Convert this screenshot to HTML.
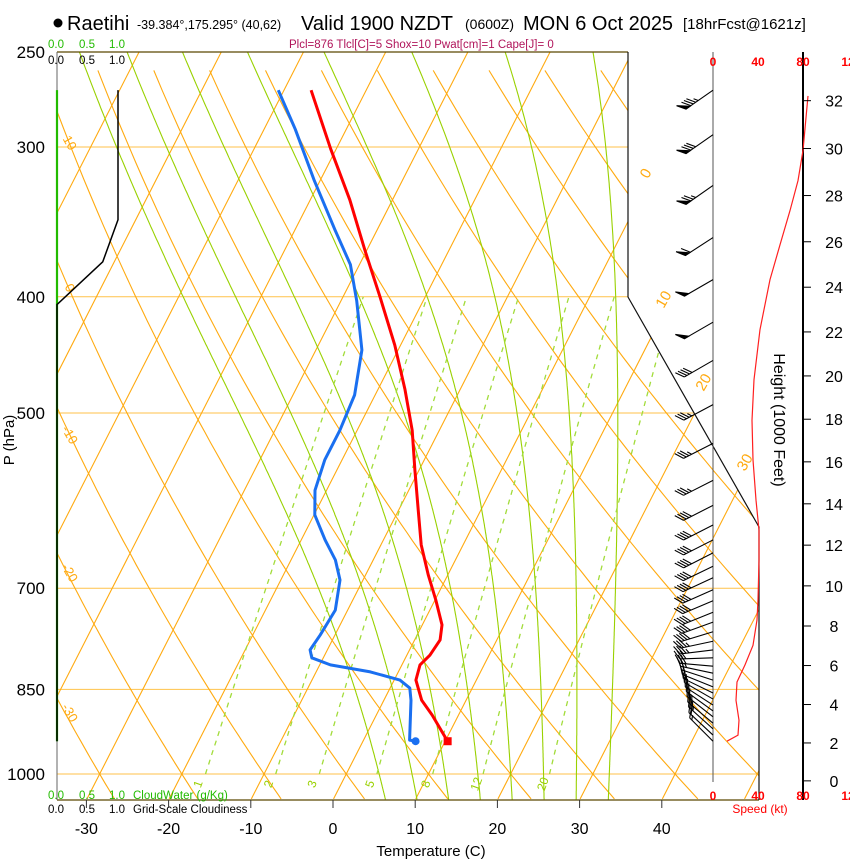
<!DOCTYPE html>
<html><head><meta charset="utf-8"><style>
html,body{margin:0;padding:0;background:#fff;}
svg{display:block;font-family:"Liberation Sans",sans-serif;}
</style></head><body>
<svg id="chart" width="850" height="860" viewBox="0 0 850 860" xmlns="http://www.w3.org/2000/svg">
<defs><clipPath id="plotclip"><path d="M57,52 H628 V297 L759,527 V800 H57 Z"/></clipPath></defs>
<g id="grid" clip-path="url(#plotclip)"></g>
<g id="labels"></g>
<g id="frame">
<line x1="57" y1="52" x2="628" y2="52" stroke="#5a4800" stroke-width="1.2"/>
<line x1="57" y1="800" x2="759" y2="800" stroke="#5a4800" stroke-width="1.2"/>
<line x1="57" y1="52" x2="57" y2="800" stroke="#666" stroke-width="1"/>
<path d="M628,52 V297 L759,527 V800" fill="none" stroke="#111" stroke-width="1.2"/>
<line x1="713" y1="52" x2="713" y2="782" stroke="#555" stroke-width="1"/>
<line x1="803" y1="52" x2="803" y2="800" stroke="#000" stroke-width="2"/>
</g>
<g id="profiles"></g>
<g id="wind"></g>
<g id="texts">
<circle cx="58" cy="23" r="4.5" fill="#000"/>
<text x="67" y="30" font-size="20">Raetihi</text>
<text x="137" y="29" font-size="12.5">-39.384°,175.295° (40,62)</text>
<text x="301" y="30" font-size="20">Valid 1900 NZDT</text>
<text x="465" y="29" font-size="14">(0600Z)</text>
<text x="523" y="30" font-size="20">MON 6 Oct 2025</text>
<text x="683" y="29" font-size="15">[18hrFcst@1621z]</text>
<text x="289" y="48" font-size="11.5" fill="#b0145a">Plcl=876 Tlcl[C]=5 Shox=10 Pwat[cm]=1 Cape[J]= 0</text>
<g font-size="11.5" fill="#22bb00"><text x="48" y="48">0.0</text><text x="79" y="48">0.5</text><text x="109" y="48">1.0</text></g>
<g font-size="11.5" fill="#000"><text x="48" y="64">0.0</text><text x="79" y="64">0.5</text><text x="109" y="64">1.0</text></g>
<g font-size="11.5" fill="#22bb00"><text x="48" y="799">0.0</text><text x="79" y="799">0.5</text><text x="109" y="799">1.0</text><text x="133" y="799">CloudWater (g/Kg)</text></g>
<g font-size="11.5" fill="#000"><text x="48" y="813">0.0</text><text x="79" y="813">0.5</text><text x="109" y="813">1.0</text><text x="133" y="813">Grid-Scale Cloudiness</text></g>
<text x="431" y="856" font-size="15" text-anchor="middle">Temperature (C)</text>
<text transform="translate(14,440) rotate(-90)" font-size="15" text-anchor="middle">P (hPa)</text>
<text transform="translate(774,420) rotate(90)" font-size="16" text-anchor="middle">Height (1000 Feet)</text>
<g font-size="12" font-weight="bold" fill="#f00" text-anchor="middle"><text x="713" y="66">0</text><text x="758" y="66">40</text><text x="803" y="66">80</text><text x="848" y="66">12</text></g>
<g font-size="12" font-weight="bold" fill="#f00" text-anchor="middle"><text x="713" y="800">0</text><text x="758" y="800">40</text><text x="803" y="800">80</text><text x="848" y="800">12</text></g>
<text x="760" y="813" font-size="12" fill="#f00" text-anchor="middle">Speed (kt)</text>
</g>
<g id="axes"></g>
</svg>
<script>
const tempP=[269,301,332,366,400,439,478,517,558,602,644,682,716,751,773,796,811,835,868,893,939];
const tempT=[-46.7,-40.7,-35.2,-30.2,-25.5,-20.7,-16.7,-13.3,-10.5,-7.65,-5.1,-2.4,0.1,2.4,3.1,2.8,2.2,2.65,4.6,6.8,10.3];
const dewP=[269,290,320,352,376,403,443,483,517,547,580,608,638,663,689,730,766,788,800,811,822,835,848,868,937,939];
const dewT=[-50.7,-46.2,-40.7,-35.1,-31.1,-28.1,-24.4,-22.5,-22.1,-22.1,-21.4,-19.9,-17.1,-14.6,-12.8,-11.5,-11.8,-12.1,-11.4,-8.7,-3.4,0.7,2.4,3.3,5.6,6.4];
const speedP=[272,302,320,339,362,387,426,469,507,547,591,626,663,716,744,781,811,838,868,902,928,939];
const speedKt=[84.4,80,75.6,68.4,59.6,50.7,41.8,36.4,34.7,35.6,38.2,40.9,40.9,40,39.1,35.6,28.4,21.3,20.4,23.1,22.2,12.4];
const barbP=[269,293,323,357,387,420,452,492,530,569,597,620,638,654,671,686,702,717,733,747,761,775,788,800,813,824,835,846,856,866,876,886,896,907,917,928,939];
const barbKt=[84,81,75,61,51,50,38,35,35,36,38,40,41,41,41,41,40,40,40,39,38,36,34,31,28,25,22,21,20,20,21,22,23,23,23,22,13];
const barbDir=[235,235,235,237,240,240,240,242,243,243,243,243,243,243,244,245,246,247,248,250,253,258,263,268,275,282,288,292,296,300,303,306,308,310,312,313,315];
const cloudP=[269,345,374,406,939];
const cloudFrac=[1.0,1.0,0.75,0,0];
const cloudWaterP=[269,939];
const cloudWater=[0,0];
const pressureTicks=[250,300,400,500,700,850,1000];
const tempTicks=[-30,-20,-10,0,10,20,30,40];
const heightTicks=[0,2,4,6,8,10,12,14,16,18,20,22,24,26,28,30,32];
const isotherms=[-110,-100,-90,-80,-70,-60,-50,-40,-30,-20,-10,0,10,20,30,40,50];
const isoLabels=[0,10,20,30];
const dryAdiabats=[-40,-30,-20,-10,0,10,20,30,40,50,60,70,80,90,100,110,120,130,140,150];
const dryLabels=[10,0,-10,-20,-30];
const moistAdiabats=[4,8,12,16,20,24,28,32];
const mixRatios=[1,2,3,5,8,12,20];

const NS="http://www.w3.org/2000/svg";
const yP=p=>774+520.8*Math.log(p/1000);
const xT=(T,p)=>333+8.22*T+0.51*(800-yP(p));
const xS=kt=>713+kt*45/40;
const xC=f=>57+f*61;
function mk(parent,tag,attrs){const e=document.createElementNS(NS,tag);for(const k in attrs)e.setAttribute(k,attrs[k]);parent.appendChild(e);return e;}
function pathFromTP(Ts,Ps){return Ts.map((T,i)=>(i?'L':'M')+xT(T,Ps[i]).toFixed(1)+','+yP(Ps[i]).toFixed(1)).join(' ');}
const grid=document.getElementById('grid'),labels=document.getElementById('labels'),prof=document.getElementById('profiles'),wind=document.getElementById('wind'),axes=document.getElementById('axes');

pressureTicks.forEach(p=>{if(p===250)return;
 const l=mk(grid,'line',{x1:57,x2:760,y1:yP(p),y2:yP(p),stroke:'#ffc24a','stroke-width':1});
 
 });
isotherms.forEach(T=>{const l=mk(grid,'line',{x1:xT(T,1049),y1:yP(1049),x2:xT(T,250),y2:yP(250),stroke:'#ffaa10','stroke-width':1.1});
 
 });
dryAdiabats.forEach(th=>{const Ps=[],Ts=[];for(let p=1049;p>=250;p-=10){Ps.push(p);Ts.push((th+273.15)*Math.pow(p/1000,0.2857)-273.15);}
 const e=mk(grid,'path',{d:pathFromTP(Ts,Ps),fill:'none',stroke:'#ffaa10','stroke-width':1.1});
 
 });
function es(Tc){return 6.112*Math.exp(17.67*Tc/(Tc+243.5));}
function dTdp(T,p){const Tc=T-273.15,e=es(Tc),rs=0.622*e/(p-e),Lv=2.501e6,Rd=287.04,cp=1005.7;
 return (1/p)*(Rd*T+Lv*rs)/(cp+Lv*Lv*rs*0.622/(Rd*T*T));}
moistAdiabats.forEach(tw=>{let up=[],T=tw+273.15;for(let p=1000;p>=250;p-=2){up.push([p,T-273.15]);T-=dTdp(T,p)*2;}
 let dn=[];T=tw+273.15;for(let p=1000;p<=1050;p+=2){dn.push([p,T-273.15]);T+=dTdp(T,p)*2;}
 const pts=dn.reverse().concat(up);
 const e=mk(grid,'path',{d:pathFromTP(pts.map(a=>a[1]),pts.map(a=>a[0])),fill:'none',stroke:'#99d100','stroke-width':1.1});
 
 });
function tdFromW(w,p){const e=p*w/(622+w),l=Math.log(e/6.112);return 243.5*l/(17.67-l);}
mixRatios.forEach(w=>{const Ps=[],Ts=[];for(let p=1000;p>=400;p-=10){Ps.push(p);Ts.push(tdFromW(w,p));}
 const e=mk(grid,'path',{d:pathFromTP(Ts,Ps),fill:'none',stroke:'#a2dc3a','stroke-width':1.3,'stroke-dasharray':'5,5'});
 
 
 const lx=xT(tdFromW(w,1022),1022),ly=yP(1022);
 const t=mk(labels,'text',{x:lx,y:ly,'font-size':12,fill:'#99d100','text-anchor':'middle',transform:`rotate(-70 ${lx} ${ly})`});
 t.textContent=w;
 
 });
const isoLabelP=[314,400,469,547];
isoLabels.forEach((T,i)=>{const p=isoLabelP[i],x=xT(T,p)-4,y=yP(p)+5;
 const t=mk(labels,'text',{x:x,y:y,'font-size':15,fill:'#ffaa10','text-anchor':'middle',transform:`rotate(-60 ${x} ${y})`});
 t.textContent=T;
 
 });
const dryLabelY=[145,290,437,575,715];
dryLabels.forEach((th,i)=>{const x=66,y=dryLabelY[i];
 const t=mk(labels,'text',{x:x,y:y,'font-size':13,fill:'#ffaa10','text-anchor':'middle',transform:`rotate(60 ${x} ${y})`});
 t.textContent=th;
 
 });

const cw=mk(prof,'path',{d:cloudWaterP.map((p,i)=>(i?'L':'M')+xC(cloudWater[i])+','+yP(p)).join(' '),stroke:'#22bb00','stroke-width':2.2,fill:'none'});


const cf=mk(prof,'path',{d:cloudP.map((p,i)=>(i?'L':'M')+xC(cloudFrac[i])+','+yP(p)).join(' '),stroke:'#000','stroke-width':1.5,fill:'none'});


const dl=mk(prof,'path',{d:pathFromTP(dewT,dewP),stroke:'#1a6ff0','stroke-width':3,fill:'none','stroke-linejoin':'round'});


const tl=mk(prof,'path',{d:pathFromTP(tempT,tempP),stroke:'#ff0000','stroke-width':3,fill:'none','stroke-linejoin':'round'});


const dd=mk(prof,'circle',{cx:xT(dewT[dewT.length-1],dewP[dewP.length-1]),cy:yP(dewP[dewP.length-1]),r:4,fill:'#1a6ff0'});


const td=mk(prof,'rect',{x:xT(tempT[tempT.length-1],tempP[tempP.length-1])-4,y:yP(tempP[tempP.length-1])-4,width:8,height:8,fill:'#ff0000'});


const sl=mk(prof,'path',{d:speedP.map((p,i)=>(i?'L':'M')+xS(speedKt[i]).toFixed(1)+','+yP(p).toFixed(1)).join(' '),stroke:'#ff2020','stroke-width':1.2,fill:'none'});



barbP.forEach((p,i)=>{const d=barbDir[i]*Math.PI/180,y0=yP(p),L=33;
 const ux=Math.sin(d),uy=-Math.cos(d);const ex=713+L*ux,ey=y0+L*uy;
 const a=55*Math.PI/180,fx=ux*Math.cos(a)-uy*Math.sin(a),fy=ux*Math.sin(a)+uy*Math.cos(a);
 const g=mk(wind,'g',{stroke:'#000','stroke-width':1.1,fill:'#000'});
 
 
 mk(g,'line',{x1:713,y1:y0,x2:ex,y2:ey});
 let s=Math.round(barbKt[i]/5)*5,pos=0;const fl=10;
 while(s>=50){const ax=ex-ux*pos,ay=ey-uy*pos,bx=ex-ux*(pos+5),by=ey-uy*(pos+5);
  mk(g,'polygon',{points:`${ax},${ay} ${ax+fx*fl},${ay+fy*fl} ${bx},${by}`});pos+=6;s-=50;}
 while(s>=10){const ax=ex-ux*pos,ay=ey-uy*pos;mk(g,'line',{x1:ax,y1:ay,x2:ax+fx*fl,y2:ay+fy*fl});pos+=3;s-=10;}
 if(s>=5){const ax=ex-ux*pos,ay=ey-uy*pos;mk(g,'line',{x1:ax,y1:ay,x2:ax+fx*fl/2,y2:ay+fy*fl/2});}
});

pressureTicks.forEach(p=>{const t=mk(axes,'text',{x:45,y:yP(p)+6,'font-size':17,'text-anchor':'end'});
 t.textContent=p;
 
 });
tempTicks.forEach(T=>{const x=333+8.22*T;
 const l=mk(axes,'line',{x1:x,x2:x,y1:800,y2:808,stroke:'#333'});
 
 
 const t=mk(axes,'text',{x:x,y:834,'font-size':16,'text-anchor':'middle'});
 t.textContent=T;
 
 });
heightTicks.forEach(h=>{const p=1013.25*Math.pow(1-6.8756e-6*h*1000,5.2559),y=yP(p);
 const l=mk(axes,'line',{x1:803,x2:811,y1:y,y2:y,stroke:'#000'});
 
 
 const t=mk(axes,'text',{x:834,y:y+6,'font-size':16,'text-anchor':'middle'});
 t.textContent=h;
 
 });
</script>
</body></html>
